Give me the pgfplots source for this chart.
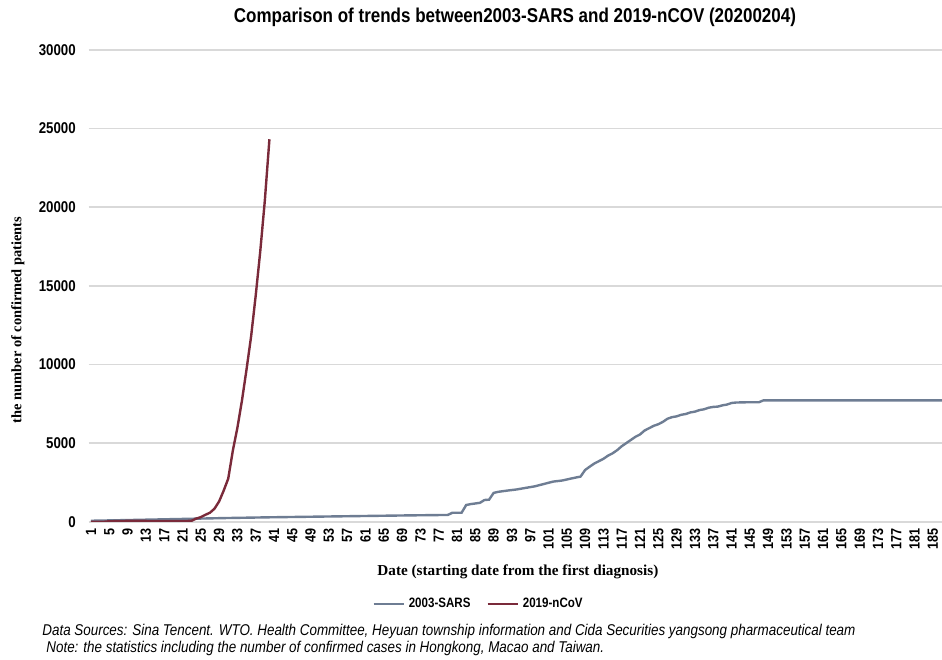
\documentclass[border=0pt]{standalone}
\usepackage{pgfplots}
\pgfplotsset{compat=1.18}
\usepackage{fontspec}
\setmainfont{Liberation Sans}
\newfontfamily\condfont[FakeStretch=0.85]{Liberation Sans}
\newfontfamily\notefont[FakeStretch=0.86]{Liberation Sans}
\newfontfamily\serifb{Liberation Serif}
\definecolor{sarscol}{HTML}{6E7D93}
\definecolor{ncovcol}{HTML}{7A2A3A}
\definecolor{gridcol}{HTML}{D9D9D9}
\begin{document}
\begin{tikzpicture}
\path[use as bounding box] (0,0) rectangle (471pt,329.5pt);
\begin{axis}[
  at={(44.35pt,68.65pt)}, anchor=south west,
  scale only axis, width=426.65pt, height=235.85pt,
  xmin=0.5, xmax=187, ymin=0, ymax=30000,
  axis line style={draw=none},
  tick style={draw=none},
  ymajorgrids, grid style={gridcol, line width=0.8pt},
  ytick={0,5000,...,30000},
  scaled y ticks=false,
  xtick={1,5,...,185},
  /pgf/number format/assume math mode=true,
  /pgf/number format/1000 sep={},
  yticklabel style={font=\condfont\bfseries\fontsize{7.8}{8}\selectfont, xshift=-3pt},
  xticklabel style={font=\condfont\bfseries\fontsize{7.4}{8}\selectfont, rotate=90, anchor=east},
  xlabel={\serifb\bfseries\fontsize{7.6}{8}\selectfont Date (starting date from the first diagnosis)},
  xlabel style={at={(axis description cs:0.503,-0.107)}, anchor=center},
  ylabel={\serifb\bfseries\fontsize{7.2}{8}\selectfont the number of confirmed patients},
  ylabel style={at={(axis description cs:-0.083,0.428)}, anchor=center, rotate=0},
  legend style={at={(axis description cs:0.458,-0.175)}, anchor=center, draw=none,
    font=\condfont\bfseries\fontsize{6.8}{7}\selectfont, legend columns=2,
    /tikz/every even column/.append style={column sep=6pt}},
  legend image code/.code={\draw[#1, line width=1.2pt] (0pt,0pt) -- (15pt,0pt);},
]
\addplot[sarscol, line width=1.2pt] coordinates {
(1,60) (10,110) (20,170) (30,230) (40,280) (50,320) (60,360) (70,400) (79,430)
(80,570) (82,570) (83,1060) (84,1120) (86,1200) (87,1380) (88,1400) (89,1830)
(90,1900) (92,1980) (94,2050) (96,2150) (98,2250) (100,2400) (102,2550) (104,2620)
(106,2750) (108,2870) (109,3290) (110,3500) (111,3700) (112,3850) (113,4000)
(114,4200) (115,4350) (116,4550) (117,4800) (118,5000) (119,5200) (120,5400)
(121,5550) (122,5800) (123,5950) (124,6100) (125,6200) (126,6350) (127,6550)
(128,6650) (129,6700) (130,6800) (131,6850) (132,6950) (133,7000) (134,7100)
(135,7150) (136,7250) (137,7300) (138,7320) (139,7400) (140,7450) (141,7550)
(142,7580) (145,7600) (147,7600) (148,7720) (187,7720)
};
\addlegendentry{2003-SARS}
\addplot[ncovcol, line width=1.2pt] coordinates {
(1,0) (4,0) (5,27) (8,44) (10,59) (15,41) (21,41) (22,45) (23,62) (24,198)
(25,291) (26,440) (27,571) (28,830) (29,1287) (30,1975) (31,2744) (32,4515)
(33,5974) (34,7711) (35,9692) (36,11791) (37,14380) (38,17205) (39,20438) (40,24324)
};
\addlegendentry{2019-nCoV}
\end{axis}
\node[anchor=center, font=\condfont\bfseries\fontsize{10}{11}\selectfont, inner sep=0pt] at (257.5pt,321pt)
  {Comparison of trends between2003-SARS and 2019-nCOV (20200204)};
\node[anchor=west, font=\notefont\itshape\fontsize{7.8}{8}\selectfont, inner sep=0pt] at (21pt,14pt)
  {Data Sources: Sina Tencent. WTO. Health Committee, Heyuan township information and Cida Securities yangsong pharmaceutical team};
\node[anchor=west, font=\notefont\itshape\fontsize{7.8}{8}\selectfont, inner sep=0pt] at (23pt,5.5pt)
  {Note: the statistics including the number of confirmed cases in Hongkong, Macao and Taiwan.};
\end{tikzpicture}
\end{document}
